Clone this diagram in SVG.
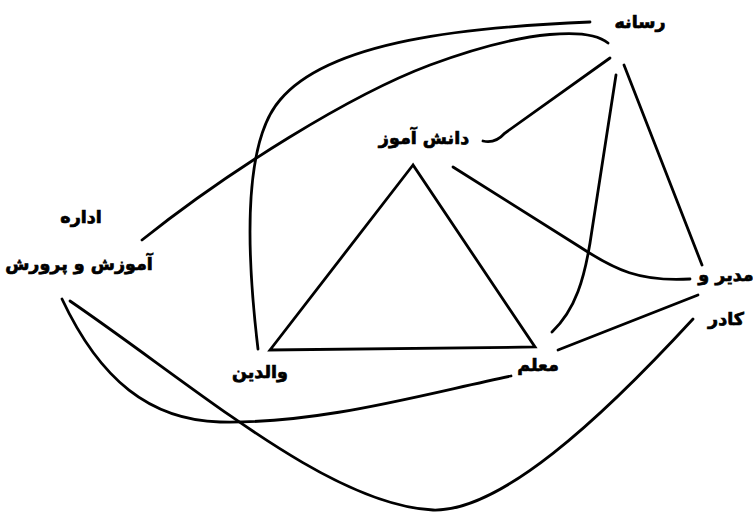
<svg xmlns="http://www.w3.org/2000/svg" width="753" height="512" viewBox="0 0 753 512">
<style>
.c{fill:none;stroke:#000;stroke-width:2.8;stroke-linecap:round;stroke-linejoin:miter}
.t{font-family:"DejaVu Sans","Noto Sans",sans-serif;font-weight:bold;font-size:17.5px;fill:#000;stroke:#000;stroke-width:0.7;text-anchor:middle}
</style>
<rect width="753" height="512" fill="#fff"/>
<g id="connectors">
<path class="c" d="M413,165 L270,350 L535,347 Z"/>
<path class="c" d="M590,22 C470,27 330,40 280,100 C245,140 245,240 258,349"/>
<path class="c" d="M608,43 C590,28 530,28 430,65 C350,95 230,170 142,240"/>
<path class="c" d="M610,58 L505,133 Q495,144 483,141"/>
<path class="c" d="M616,75 L592,230 C585,280 575,310 552,332"/>
<path class="c" d="M624,65 L702,265"/>
<path class="c" d="M453,167 L580,247 C615,270 640,282 690,279"/>
<path class="c" d="M558,350 L698,295"/>
<path class="c" d="M62,299 C100,380 150,420 220,422 C320,424 420,395 511,376"/>
<path class="c" d="M70,301 C200,390 330,505 433,510 C500,512 600,420 693,319"/>
</g>
<g id="node-rasaneh"><text class="t" x="640" y="28">رسانه</text></g>
<g id="node-daneshamooz"><text class="t" x="424" y="144">دانش آموز</text></g>
<g id="node-edareh"><text class="t" x="81" y="223">اداره</text><text class="t" x="79" y="270">آموزش و پرورش</text></g>
<g id="node-modir"><text class="t" x="726" y="281">مدیر و</text><text class="t" x="726" y="325">کادر</text></g>
<g id="node-valedein"><text class="t" x="260" y="378">والدین</text></g>
<g id="node-moallem"><text class="t" x="538" y="371">معلم</text></g>
</svg>
